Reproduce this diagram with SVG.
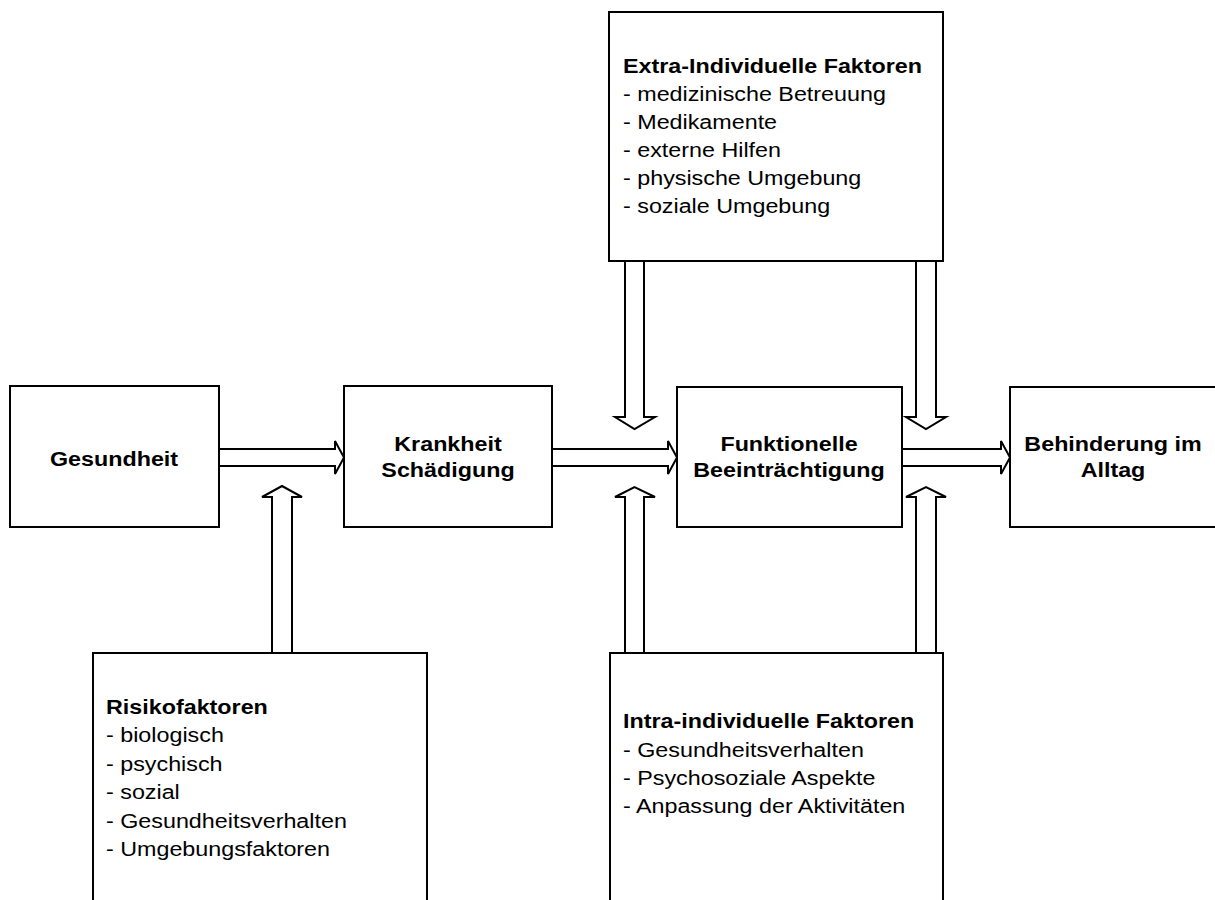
<svg xmlns="http://www.w3.org/2000/svg" width="1215" height="900" viewBox="0 0 1215 900">
<style>
.box{fill:#fff;stroke:#000;stroke-width:2}
.arr{fill:#fff;stroke:#000;stroke-width:2;stroke-linejoin:miter}
text{font-family:"Liberation Sans",Arial,sans-serif;font-size:21px;fill:#000}
.b{font-weight:bold}
.c{text-anchor:middle}
</style>
<rect width="1215" height="900" fill="#fff"/>
<g id="connectors">
<polygon class="arr" points="219,449 335,449 335,441 344,457.5 335,474 335,466 219,466"/>
<polygon class="arr" points="552,449 668,449 668,441 677,457.5 668,474 668,466 552,466"/>
<polygon class="arr" points="902,449 1001,449 1001,441 1010,457.5 1001,474 1001,466 902,466"/>
<polygon class="arr" points="625,261 644,261 644,417 655,417 634.5,429 615,417 625,417"/>
<polygon class="arr" points="916,261 936,261 936,417 946,417 926,429 906,417 916,417"/>
<polygon class="arr" points="272,653 292,653 292,497 302,497 282,486 262,497 272,497"/>
<polygon class="arr" points="625,653 644,653 644,497 655,497 634.5,487 615,497 625,497"/>
<polygon class="arr" points="916,653 936,653 936,497 946,497 926,487 906,497 916,497"/>
</g>
<g id="gesundheit">
<rect class="box" x="10" y="386" width="209" height="141"/>
<text class="b c" transform="translate(114,0) scale(1.11,1)" x="0" y="466">Gesundheit</text>
</g>
<g id="krankheit">
<rect class="box" x="344" y="386" width="208" height="141"/>
<text class="b c" transform="translate(448,0) scale(1.11,1)"><tspan x="0" y="451">Krankheit</tspan><tspan x="0" y="477">Schädigung</tspan></text>
</g>
<g id="funktionelle">
<rect class="box" x="677" y="387" width="225" height="140"/>
<text class="b c" transform="translate(789,0) scale(1.11,1)"><tspan x="0" y="451">Funktionelle</tspan><tspan x="0" y="477">Beeinträchtigung</tspan></text>
</g>
<g id="behinderung">
<rect class="box" x="1010" y="387" width="206" height="140"/>
<text class="b c" transform="translate(1113,0) scale(1.11,1)"><tspan x="0" y="451">Behinderung im</tspan><tspan x="0" y="477">Alltag</tspan></text>
</g>
<g id="extra">
<rect class="box" x="609" y="12" width="334" height="249"/>
<text transform="translate(623,0) scale(1.11,1)"><tspan class="b" x="0" y="73">Extra-Individuelle Faktoren</tspan><tspan x="0" y="101">- medizinische Betreuung</tspan><tspan x="0" y="129">- Medikamente</tspan><tspan x="0" y="157">- externe Hilfen</tspan><tspan x="0" y="185">- physische Umgebung</tspan><tspan x="0" y="213">- soziale Umgebung</tspan></text>
</g>
<g id="risiko">
<rect class="box" x="93" y="653" width="334" height="260"/>
<text transform="translate(106,0) scale(1.11,1)"><tspan class="b" x="0" y="714">Risikofaktoren</tspan><tspan x="0" y="742.5">- biologisch</tspan><tspan x="0" y="771">- psychisch</tspan><tspan x="0" y="799.5">- sozial</tspan><tspan x="0" y="828">- Gesundheitsverhalten</tspan><tspan x="0" y="856.5">- Umgebungsfaktoren</tspan></text>
</g>
<g id="intra">
<rect class="box" x="610" y="653" width="333" height="260"/>
<text transform="translate(623,0) scale(1.11,1)"><tspan class="b" x="0" y="728">Intra-individuelle Faktoren</tspan><tspan x="0" y="757">- Gesundheitsverhalten</tspan><tspan x="0" y="785">- Psychosoziale Aspekte</tspan><tspan x="0" y="813">- Anpassung der Aktivitäten</tspan></text>
</g>
</svg>
